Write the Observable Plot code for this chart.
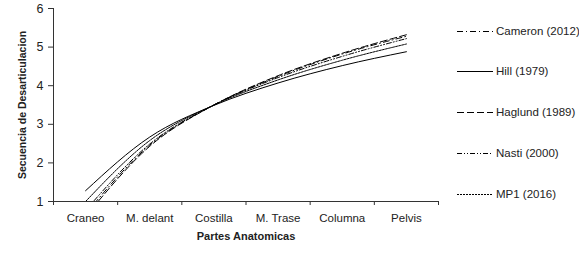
<!DOCTYPE html>
<html><head><meta charset="utf-8">
<script src="https://cdn.jsdelivr.net/npm/d3@7"></script>
<script src="https://cdn.jsdelivr.net/npm/@observablehq/plot@0.6"></script>
<style>
body{margin:0;background:#fff;font-family:"Liberation Sans",Arial,sans-serif}
#wrap{position:relative;width:579px;height:259px;overflow:hidden;background:#fff}
#legend{position:absolute;left:457px;top:0;width:122px;height:259px}
.item{position:absolute;left:0;height:14px;display:flex;align-items:center;white-space:nowrap;font-size:11.5px;color:#222}
.item svg{margin-right:3px}
</style></head><body><div id="wrap"><div id="legend"></div></div>
<script>
const categories = ["Craneo","M. delant","Costilla","M. Trase","Columna","Pelvis"];
const series = ["Cameron (2012)","Hill (1979)","Haglund (1989)","Nasti (2000)","MP1 (2016)"];
const cameron = [0.68,2.46,3.50,4.24,4.82,5.28];
const hill    = [1.28,2.67,3.49,4.07,4.52,4.88];
const haglund = [0.61,2.43,3.50,4.26,4.84,5.32];
const nasti   = [0.77,2.49,3.50,4.21,4.76,5.22];
const mp1     = [1.00,2.58,3.50,4.15,4.66,5.08];
const yTicks = [1,2,3,4,5,6];
const dashes = ["6,3,1,3","none","7,3","5,2,1,2,1,2","2,1"];

const values = [cameron, hill, haglund, nasti, mp1];
const idx = categories.map((c,i)=>i+1);
const bounds = d3.range(0, categories.length+1).map(i=>i+0.5);
const ink = "#222";

const lineMarks = series.map((s,i)=>Plot.line(values[i].map((v,j)=>({cat:j+1, v})), {
  x:"cat", y:"v", curve:"monotone-x", clip:true, stroke:"#000", strokeWidth:1,
  strokeDasharray: dashes[i]==="none" ? undefined : dashes[i]
}));

const plot = Plot.plot({
  width:579, height:259,
  marginLeft:53, marginRight:141, marginTop:8, marginBottom:58,
  style:{fontFamily:'"Liberation Sans",Arial,sans-serif', fontSize:"11.5px", color:ink, background:"transparent", overflow:"visible"},
  x:{domain:[0.5,6.5], axis:null, label:null},
  y:{domain:[1,6], axis:null, label:null},
  marks:[
    Plot.axisX(bounds, {tickSize:4, tickFormat:()=>"", label:null, stroke:"#333"}),
    Plot.axisX(idx, {tickSize:0, tickPadding:12, tickFormat:d=>categories[d-1], label:null, fill:ink, fontSize:11.5}),
    Plot.axisY(yTicks, {tickSize:5, tickPadding:5, label:null, stroke:"#333", fill:ink, fontSize:12.5}),
    Plot.ruleY([1], {stroke:"#333"}),
    Plot.ruleX([0.5], {stroke:"#333"}),
    ...lineMarks,
    Plot.text(["Partes Anatomicas"], {frameAnchor:"bottom", dy:38, fontWeight:"bold", fontSize:11, fill:ink}),
    Plot.text(["Secuencia de Desarticulacion"], {frameAnchor:"left", textAnchor:"middle", dx:-31, rotate:-90, fontWeight:"bold", fontSize:10.5, fill:ink})
  ]
});
document.getElementById("wrap").prepend(plot);

const legend = document.getElementById("legend");
const rowY = [31, 71, 112, 153, 194];
series.forEach((s,i)=>{
  const div = document.createElement("div");
  div.className = "item";
  div.style.top = (rowY[i]-7)+"px";
  div.innerHTML = `<svg width="36" height="14"><line x1="0" x2="36" y1="7.5" y2="7.5" stroke="#000" stroke-width="1" ${dashes[i]==="none"?"":`stroke-dasharray="${dashes[i]}"`}/></svg><span>${s}</span>`;
  legend.appendChild(div);
});
</script>
</body></html>
